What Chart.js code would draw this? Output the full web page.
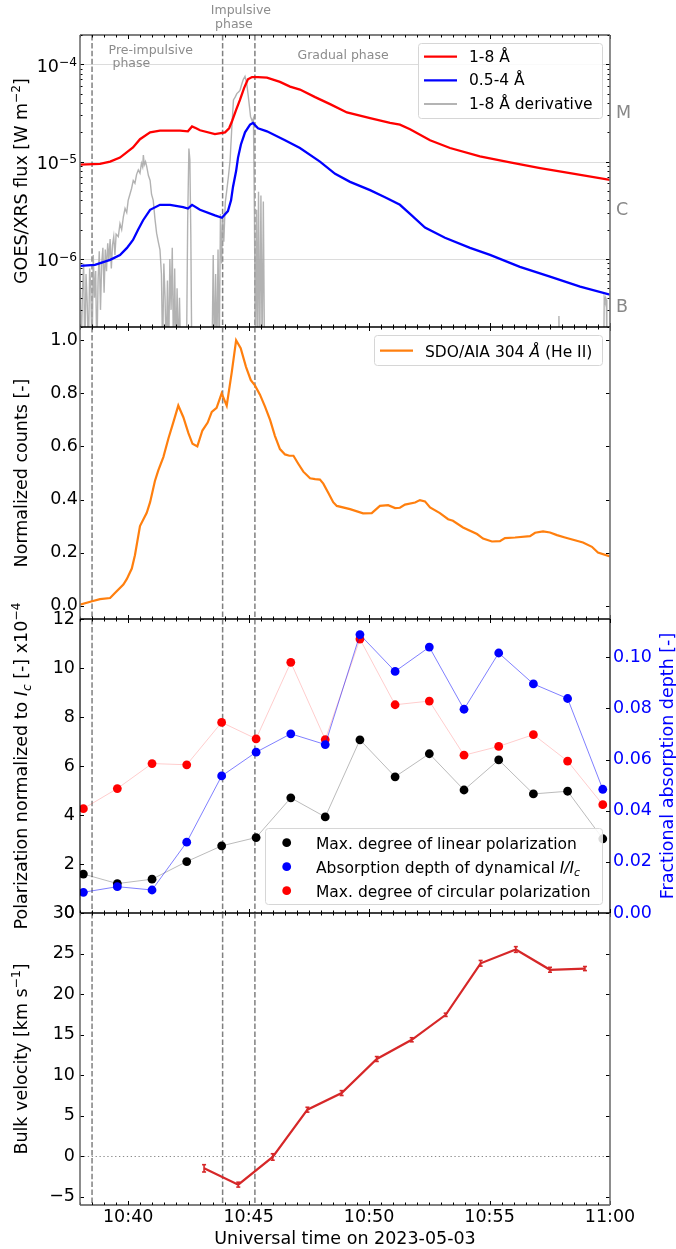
<!DOCTYPE html>
<html>
<head>
<meta charset="utf-8">
<script src="https://cdn.jsdelivr.net/npm/chart.js@4.4.1/dist/chart.umd.min.js"></script>
<style>
  html, body { margin: 0; padding: 0; background: #fff; }
  #page { position: relative; width: 676px; height: 1249px; overflow: hidden; background: #fff; }
  canvas { position: absolute; left: 0; }
</style>
</head>
<body>
<div id="page">
  <canvas id="c1" width="676" height="347" style="top:0px"></canvas>
  <canvas id="c2" width="676" height="340" style="top:300px"></canvas>
  <canvas id="c3" width="676" height="360" style="top:575px"></canvas>
  <canvas id="c4" width="676" height="364" style="top:885px"></canvas>
</div>
<script>
// time axis: minutes after 10:00 UT on 2023-05-03
const X_MIN = 38;
const X_MAX = 60;
const X_MAJOR = [40, 45, 50, 55, 60];
// phase boundaries (dashed lines)
const PHASE_LINES = [38.5, 43.92, 45.26];

// GOES/XRS 1-8 Å [W m^-2]
const xrsLongT = [38.00, 38.83, 39.25, 39.66, 39.95, 40.20, 40.49, 40.91, 41.32, 42.15, 42.48, 42.65, 42.82, 42.98,
  43.60, 44.02, 44.19, 44.31, 44.48, 44.64, 44.81, 44.97, 45.14, 45.39, 45.76, 46.30, 46.72, 47.13, 47.76, 48.38,
  49.08, 50.04, 50.87, 51.28, 51.70, 52.53, 53.36, 54.60, 55.85, 57.10, 58.34, 60.00];
const xrsLong = [9.3e-6, 9.5e-6, 1.0e-5, 1.1e-5, 1.25e-5, 1.4e-5, 1.7e-5, 2.0e-5, 2.08e-5, 2.08e-5, 2.05e-5, 2.3e-5, 2.2e-5, 2.1e-5,
  1.92e-5, 2.0e-5, 2.2e-5, 2.6e-5, 3.4e-5, 4.3e-5, 5.7e-5, 7.0e-5, 7.4e-5, 7.4e-5, 7.3e-5, 6.6e-5, 5.9e-5, 5.5e-5, 4.6e-5, 3.9e-5,
  3.2e-5, 2.8e-5, 2.5e-5, 2.4e-5, 2.15e-5, 1.66e-5, 1.38e-5, 1.13e-5, 9.8e-6, 8.6e-6, 7.6e-6, 6.5e-6];

// GOES/XRS 0.5-4 Å [W m^-2]
const xrsShortT = [38.00, 38.62, 39.25, 39.66, 39.95, 40.20, 40.41, 40.62, 40.91, 41.32, 41.74, 42.28, 42.48, 42.65, 42.98,
  43.60, 43.89, 44.14, 44.27, 44.35, 44.48, 44.56, 44.68, 44.85, 45.06, 45.18, 45.39, 45.76, 46.51, 47.13, 47.96, 48.59,
  49.21, 50.04, 50.66, 51.28, 51.70, 52.32, 53.15, 54.19, 55.02, 56.26, 57.51, 58.76, 60.00];
const xrsShort = [8.5e-7, 8.7e-7, 9.8e-7, 1.1e-6, 1.3e-6, 1.57e-6, 2.0e-6, 2.5e-6, 3.2e-6, 3.6e-6, 3.6e-6, 3.4e-6, 3.3e-6, 3.6e-6, 3.2e-6,
  2.8e-6, 2.65e-6, 3.1e-6, 4.0e-6, 5.5e-6, 8.0e-6, 1.1e-5, 1.5e-5, 2.0e-5, 2.4e-5, 2.5e-5, 2.2e-5, 2.05e-5, 1.66e-5, 1.38e-5, 1.0e-5, 7.5e-6,
  6.2e-6, 5.1e-6, 4.3e-6, 3.6e-6, 2.9e-6, 2.1e-6, 1.65e-6, 1.3e-6, 1.1e-6, 8.3e-7, 6.6e-7, 5.2e-7, 4.3e-7];

// 1-8 Å derivative (null = gap, 1e-7 = below the axis)
const derivT = [38.00, 38.05, 38.10, 38.15, 38.20, 38.25, 38.30, 38.35, 38.40, 38.45, 38.50, 38.55, 38.60, 38.65, 38.70,
  38.75, 38.80, 38.85, 38.90, 38.95, 39.00, 39.05, 39.10, 39.15, 39.20, 39.25, 39.30, 39.35, 39.40, 39.45, 39.50,
  39.59, 39.66, 39.73, 39.80, 39.87, 39.94, 40.00, 40.07, 40.14, 40.21, 40.28, 40.35, 40.42, 40.49, 40.55, 40.60,
  40.63, 40.67, 40.72, 40.77, 40.84, 40.91, 40.97, 41.04, 41.11, 41.18, 41.25, 41.32,
  41.38, 41.43, 41.48, 41.53, 41.58, 41.63, 41.68, 41.73, 41.78, 41.83, 41.88, 41.93, 41.98, 42.03, 42.08, 42.13, 42.18, 42.25,
  42.42, 42.47, 42.52, 42.56, 42.60, 42.64, 42.90,
  43.48, 43.53, 43.58, 43.63, 43.68, 43.73, 43.78, 43.83, 43.88, 43.92, 43.97, 44.03, 44.09, 44.16, 44.23, 44.30,
  44.37, 44.44, 44.51, 44.58, 44.64, 44.71, 44.78, 44.85, 44.92, 44.99, 45.08, 45.15, 45.20, 45.24, 45.28,
  45.33, 45.37, 45.41, 45.46, 45.51, 45.56, 45.61, 45.66, 46.00,
  57.86, 57.88, 57.90, 58.50,
  59.74, 59.76, 59.79, 59.82, 59.85, 59.87];
const deriv = [6e-7, 1e-7, 4.5e-7, 9e-7, 1e-7, 7e-7, 3.5e-7, 1e-7, 8e-7, 5e-7, 1e-7, 1.1e-6, 4e-7, 7.5e-7, 1e-7,
  6e-7, 1.2e-6, 3e-7, 9e-7, 1.3e-6, 4.5e-7, 1.25e-6, 7.5e-7, 1.45e-6, 9.5e-7, 1.6e-6, 8e-7, 1.4e-6, 1.7e-6, 1.1e-6, 1.8e-6,
  1.7e-6, 2.3e-6, 2.0e-6, 2.7e-6, 3.3e-6, 3.0e-6, 4.0e-6, 4.6e-6, 5.3e-6, 6.4e-6, 6.0e-6, 7.4e-6, 8.2e-6, 7.6e-6, 9.6e-6, 8.8e-6,
  1.17e-5, 9.3e-6, 1.0e-5, 8.9e-6, 7.2e-6, 6.4e-6, 4.6e-6, 4.0e-6, 2.6e-6, 1.84e-6, 1.5e-6, 1.24e-6,
  7e-7, 1e-7, 9e-7, 4e-7, 1e-7, 6e-7, 1e-7, 1.0e-6, 3e-7, 1.3e-6, 1e-7, 8e-7, 1e-7, 5e-7, 1e-7, 4e-7, 1e-7, null,
  1e-7, 2.5e-6, 1.36e-5, 1.05e-5, 1.8e-6, 1e-7, null,
  1e-7, 1.1e-6, 1e-7, 7e-7, 1e-7, 1.25e-6, 1e-7, 2.9e-6, 9e-7, 2.6e-6, 1.5e-6, 3.8e-6, 5.0e-6, 7.0e-6, 1.03e-5, 2.2e-5,
  4.3e-5, 4.6e-5, 5.0e-5, 5.2e-5, 5.4e-5, 6.2e-5, 7.0e-5, 7.5e-5, 6.4e-5, 4.6e-5, 2.9e-5, 2.6e-5, 2.8e-5, 3e-6, 1e-7,
  3.2e-6, 1e-7, 4.9e-6, 1e-7, 4.5e-6, 1e-7, 3.9e-6, 1e-7, null,
  1e-7, 2.6e-7, 1e-7, null,
  1e-7, 4e-7, 3.7e-7, 4e-7, 3.8e-7, 1e-7];

// SDO/AIA 304 Å normalized counts
const aiaT = [38.00, 38.50, 38.83, 39.25, 39.45, 39.80, 39.94, 40.15, 40.28, 40.49, 40.77, 40.91, 41.11, 41.25, 41.46,
  41.67, 41.87, 42.08, 42.29, 42.50, 42.67, 42.87, 43.08, 43.30, 43.47, 43.67, 43.88, 44.09, 44.30, 44.48, 44.67,
  44.89, 45.09, 45.26, 45.47, 45.68, 45.89, 46.09, 46.30, 46.51, 46.69, 46.86, 47.06, 47.27, 47.55, 47.76, 47.96,
  48.10, 48.31, 48.51, 48.66, 49.21, 49.75, 50.11, 50.45, 50.79, 51.08, 51.28, 51.49, 51.91, 52.11, 52.32, 52.53,
  52.94, 53.28, 53.48, 53.90, 54.48, 54.73, 55.10, 55.43, 55.64, 56.06, 56.68, 56.89, 57.22, 57.51, 57.80, 58.13,
  58.88, 59.25, 59.50, 60.00];
const aia = [0.004, 0.017, 0.025, 0.029, 0.048, 0.08, 0.10, 0.14, 0.19, 0.30, 0.35, 0.39, 0.47, 0.51, 0.56,
  0.63, 0.69, 0.754, 0.71, 0.65, 0.61, 0.60, 0.66, 0.69, 0.73, 0.745, 0.80, 0.754, 0.88, 1.00, 0.97,
  0.90, 0.85, 0.83, 0.795, 0.75, 0.70, 0.64, 0.59, 0.57, 0.565, 0.565, 0.535, 0.505, 0.48, 0.477, 0.475,
  0.46, 0.425, 0.39, 0.376, 0.364, 0.348, 0.349, 0.376, 0.379, 0.368, 0.369, 0.381, 0.389, 0.398, 0.393, 0.370,
  0.349, 0.326, 0.320, 0.295, 0.270, 0.253, 0.242, 0.243, 0.255, 0.257, 0.262, 0.275, 0.280, 0.276, 0.266, 0.257,
  0.238, 0.222, 0.200, 0.186];

// spectropolarimetric scans
const polT = [38.14, 39.55, 40.99, 42.43, 43.88, 45.31, 46.75, 48.18, 49.62, 51.08, 52.50, 53.94, 55.38, 56.82, 58.24, 59.70];
const linPol = [1.59, 1.20, 1.38, 2.10, 2.74, 3.08, 4.70, 3.92, 7.07, 5.56, 6.50, 5.02, 6.25, 4.86, 4.97, 3.03];
const circPol = [4.26, 5.08, 6.10, 6.05, 7.78, 7.11, 10.23, 7.08, 11.18, 8.50, 8.65, 6.44, 6.80, 7.28, 6.20, 4.42];
const absDepth = [0.0081, 0.0103, 0.0090, 0.0277, 0.0536, 0.0629, 0.0701, 0.0659, 0.1089, 0.0945, 0.1040, 0.0797, 0.1017, 0.0896, 0.0839, 0.0484];

// bulk velocity [km/s]
const velT = [43.15, 44.57, 46.00, 47.44, 48.86, 50.32, 51.77, 53.18, 54.63, 56.09, 57.51, 58.96];
const vel = [-1.48, -3.49, -0.08, 5.75, 7.8, 12.0, 14.37, 17.45, 23.8, 25.5, 23.0, 23.15];
const velErr = [0.45, 0.3, 0.4, 0.3, 0.3, 0.3, 0.25, 0.2, 0.35, 0.35, 0.3, 0.25];

// tick positions
const GOES_DECADES = [-4, -5, -6];
const AIA_TICKS = [0, 0.2, 0.4, 0.6, 0.8, 1.0];
const POL_TICKS = [0, 2, 4, 6, 8, 10, 12];
const ABS_TICKS = [0, 0.02, 0.04, 0.06, 0.08, 0.10];
const VEL_TICKS = [-5, 0, 5, 10, 15, 20, 25, 30];

const FAMILY = "'DejaVu Sans', sans-serif";
const TICK_PX = 17.5;
const LABEL_PX = 17.5;
const LEGEND_PX = 15.5;

Chart.defaults.font.family = FAMILY;
Chart.defaults.color = '#000';

const pts = (xs, ys) => xs.map((x, i) => ({ x, y: ys[i] }));

function fmtTime(v) {
  const h = 10 + Math.floor(v / 60);
  const m = v % 60;
  return h + ':' + String(m).padStart(2, '0');
}

function xAxis(showLabels) {
  return {
    type: 'linear', position: 'bottom', min: X_MIN, max: X_MAX,
    grid: { display: false, drawTicks: false }, border: { display: false },
    ticks: { display: showLabels, font: { size: TICK_PX }, color: '#000', padding: 2, maxRotation: 0, autoSkip: false, callback: fmtTime },
    afterBuildTicks: (s) => { s.ticks = X_MAJOR.map((v) => ({ value: v })); },
    afterFit: (s) => { s.height = showLabels ? 44 : 0; },
  };
}

function yAxis(pos, min, max, tickVals, fmt, extra = {}) {
  return {
    type: extra.type || 'linear', position: pos, min, max,
    grid: { display: false, drawTicks: false }, border: { display: false },
    ticks: { display: !!fmt, font: { size: TICK_PX }, color: extra.color || '#000', padding: extra.pad ?? 4, autoSkip: false, callback: fmt || (() => '') },
    afterBuildTicks: (s) => { s.ticks = tickVals.map((v) => ({ value: v })); },
    afterFit: (s) => { s.width = pos === 'left' ? 80 : 66; },
  };
}

function baseOptions(padding, scales) {
  return {
    responsive: false, animation: false, devicePixelRatio: 1, events: [],
    layout: { padding },
    plugins: { legend: { display: false }, tooltip: { enabled: false } },
    scales,
  };
}

// ---------- drawing helpers ----------
function strokeLine(ctx, x1, y1, x2, y2) {
  ctx.beginPath(); ctx.moveTo(x1, y1); ctx.lineTo(x2, y2); ctx.stroke();
}

function drawRich(ctx, segs, x, y, size, align, color) {
  const parts = segs.map(([t, st]) => {
    const small = st === 'sup' || st === 'sub';
    const italic = st === 'i' || st === 'sub';
    const fs = small ? size * 0.7 : size;
    const font = (italic ? 'italic ' : '') + fs + 'px ' + FAMILY;
    ctx.font = font;
    const dy = st === 'sup' ? -size * 0.4 : st === 'sub' ? size * 0.22 : 0;
    return { t, font, w: ctx.measureText(t).width, dy };
  });
  const total = parts.reduce((s, p) => s + p.w, 0);
  let cx = align === 'center' ? x - total / 2 : align === 'right' ? x - total : x;
  ctx.fillStyle = color; ctx.textAlign = 'left'; ctx.textBaseline = 'alphabetic';
  parts.forEach((p) => { ctx.font = p.font; ctx.fillText(p.t, cx, y + p.dy); cx += p.w; });
}

function vTitle(ctx, segs, x, yc, color) {
  ctx.save();
  ctx.translate(x, yc);
  ctx.rotate(-Math.PI / 2);
  drawRich(ctx, segs, 0, LABEL_PX * 0.36, LABEL_PX, 'center', color || '#000');
  ctx.restore();
}

function legendBox(ctx, x1, y1, x2, y2) {
  ctx.save();
  ctx.beginPath();
  if (ctx.roundRect) ctx.roundRect(x1 + 0.5, y1 + 0.5, x2 - x1, y2 - y1, 3);
  else ctx.rect(x1 + 0.5, y1 + 0.5, x2 - x1, y2 - y1);
  ctx.fillStyle = 'rgba(255,255,255,0.85)';
  ctx.fill();
  ctx.strokeStyle = '#d6d6d6'; ctx.lineWidth = 1; ctx.stroke();
  ctx.restore();
}

function drawPhaseLines(chart) {
  const { ctx, chartArea: a, scales: { x } } = chart;
  ctx.save();
  ctx.beginPath(); ctx.rect(a.left, a.top, a.right - a.left, a.bottom - a.top); ctx.clip();
  ctx.strokeStyle = '#808080'; ctx.lineWidth = 1.5; ctx.setLineDash([5.5, 2.4]);
  PHASE_LINES.forEach((t) => {
    const px = x.getPixelForValue(t);
    strokeLine(ctx, px, a.top, px, a.bottom);
  });
  ctx.restore();
}

// inward ticks + spines
function drawFrame(chart, yTicks, sideColor, sideWidth) {
  const { ctx, chartArea: a } = chart;
  const xs = chart.scales.x;
  ctx.save();
  ctx.strokeStyle = '#000'; ctx.lineWidth = 1;
  for (let m = X_MIN; m <= X_MAX; m += 0.5) {
    const px = Math.round(xs.getPixelForValue(m)) + 0.5;
    const len = m % 5 === 0 ? 4 : 2.5;
    strokeLine(ctx, px, a.top, px, a.top + len);
    strokeLine(ctx, px, a.bottom, px, a.bottom - len);
  }
  yTicks.forEach((t) => {
    const s = chart.scales[t.axis];
    t.values.forEach((v) => {
      const py = Math.round(s.getPixelForValue(v)) + 0.5;
      if (py < a.top - 0.5 || py > a.bottom + 1) return;
      const len = t.minor ? 2.5 : 4;
      if (t.sides.includes('l')) strokeLine(ctx, a.left, py, a.left + len, py);
      if (t.sides.includes('r')) strokeLine(ctx, a.right, py, a.right - len, py);
    });
  });
  ctx.strokeStyle = '#000'; ctx.lineWidth = 1.2;
  strokeLine(ctx, a.left, a.top, a.right, a.top);
  strokeLine(ctx, a.left, a.bottom, a.right, a.bottom);
  ctx.strokeStyle = sideColor; ctx.lineWidth = sideWidth;
  strokeLine(ctx, a.left, a.top, a.left, a.bottom);
  strokeLine(ctx, a.right, a.top, a.right, a.bottom);
  ctx.restore();
}

// ---------- panel 1: GOES/XRS ----------
const logMinor = [];
for (let e = -7; e <= -4; e++) {
  for (let k = 2; k <= 9; k++) logMinor.push(k * Math.pow(10, e));
}

const panel1Decor = {
  id: 'panel1Decor',
  beforeDatasetsDraw(chart) {
    const { ctx, chartArea: a, scales: { y } } = chart;
    ctx.save();
    ctx.strokeStyle = '#dcdcdc'; ctx.lineWidth = 1;
    GOES_DECADES.forEach((e) => {
      const py = Math.round(y.getPixelForValue(Math.pow(10, e))) + 0.5;
      strokeLine(ctx, a.left, py, a.right, py);
    });
    ctx.restore();
    drawPhaseLines(chart);
  },
  afterDatasetsDraw(chart) {
    const { ctx, chartArea: a, scales: { x, y } } = chart;
    drawFrame(chart, [
      { axis: 'y', values: GOES_DECADES.map((e) => Math.pow(10, e)), sides: 'lr' },
      { axis: 'y', values: logMinor, sides: 'lr', minor: true },
    ], '#707070', 1.6);
    ctx.save();
    // decade labels
    GOES_DECADES.forEach((e) => {
      const py = y.getPixelForValue(Math.pow(10, e));
      const sup = '\u2212' + Math.abs(e);
      ctx.font = (TICK_PX * 0.7) + 'px ' + FAMILY;
      const ws = ctx.measureText(sup).width;
      ctx.font = TICK_PX + 'px ' + FAMILY;
      const wb = ctx.measureText('10').width;
      const right = a.left - 3;
      ctx.fillStyle = '#000'; ctx.textAlign = 'left'; ctx.textBaseline = 'alphabetic';
      ctx.fillText('10', right - ws - wb, py + 7.2);
      ctx.font = (TICK_PX * 0.7) + 'px ' + FAMILY;
      ctx.fillText(sup, right - ws, py + 1.8);
    });
    // flare classes
    ctx.font = TICK_PX + 'px ' + FAMILY;
    ctx.fillStyle = '#888'; ctx.textAlign = 'left'; ctx.textBaseline = 'middle';
    [['M', -4.5], ['C', -5.5], ['B', -6.5]].forEach(([c, e]) => {
      ctx.fillText(c, a.right + 6, y.getPixelForValue(Math.pow(10, e)));
    });
    // phase names
    ctx.font = '12.5px ' + FAMILY;
    ctx.fillStyle = '#8c8c8c'; ctx.textAlign = 'center'; ctx.textBaseline = 'middle';
    ctx.fillText('Pre-impulsive', x.getPixelForValue(40.94), a.top + 15.5);
    ctx.fillText('phase', x.getPixelForValue(40.13), a.top + 29);
    ctx.fillText('Impulsive', x.getPixelForValue(44.68), a.top - 24);
    ctx.fillText('phase', x.getPixelForValue(44.39), a.top - 10);
    ctx.fillText('Gradual phase', x.getPixelForValue(48.92), a.top + 21);
    ctx.restore();
    // legend
    ctx.save();
    legendBox(ctx, a.right - 192, a.top + 8, a.right - 8, a.top + 83);
    const rows = [
      ['1-8 \u00c5', '#ff0000', 2.3],
      ['0.5-4 \u00c5', '#0000ff', 2.3],
      ['1-8 \u00c5 derivative', '#b4b4b4', 2.0],
    ];
    rows.forEach(([label, col, w], i) => {
      const ry = a.top + 21.7 + i * 23.7;
      ctx.strokeStyle = col; ctx.lineWidth = w;
      strokeLine(ctx, a.right - 186, ry, a.right - 153, ry);
      ctx.font = LEGEND_PX + 'px ' + FAMILY;
      ctx.fillStyle = '#000'; ctx.textAlign = 'left'; ctx.textBaseline = 'middle';
      ctx.fillText(label, a.right - 141, ry + 1);
    });
    ctx.restore();
    vTitle(ctx, [['GOES/XRS flux [W m', ''], ['\u22122', 'sup'], [']', '']], 21, (a.top + a.bottom) / 2);
  },
};

new Chart(document.getElementById('c1'), {
  type: 'line',
  data: {
    datasets: [
      { data: pts(xrsLongT, xrsLong), borderColor: '#ff0000', borderWidth: 2.3, pointRadius: 0, tension: 0 },
      { data: pts(xrsShortT, xrsShort), borderColor: '#0000ff', borderWidth: 2.3, pointRadius: 0, tension: 0 },
      { data: pts(derivT, deriv), borderColor: 'rgba(165,165,165,0.85)', borderWidth: 1.4, pointRadius: 0, tension: 0, spanGaps: false },
    ],
  },
  options: baseOptions({ top: 35, bottom: 20, left: 0, right: 66 }, {
    x: xAxis(false),
    y: yAxis('left', 2e-7, 2e-4, GOES_DECADES.map((e) => Math.pow(10, e)), null, { type: 'logarithmic' }),
  }),
  plugins: [panel1Decor],
});

// ---------- panel 2: SDO/AIA 304 ----------
const panel2Decor = {
  id: 'panel2Decor',
  beforeDatasetsDraw(chart) { drawPhaseLines(chart); },
  afterDatasetsDraw(chart) {
    const { ctx, chartArea: a } = chart;
    drawFrame(chart, [{ axis: 'y', values: AIA_TICKS, sides: 'lr' }], '#707070', 1.6);
    ctx.save();
    legendBox(ctx, a.right - 236, a.top + 8, a.right - 8, a.top + 38);
    const ry = a.top + 23.7;
    ctx.strokeStyle = '#ff7f0e'; ctx.lineWidth = 2.2;
    strokeLine(ctx, a.right - 230, ry, a.right - 197, ry);
    drawRich(ctx, [['SDO/AIA 304 ', ''], ['\u00c5', 'i'], [' (He II)', '']], a.right - 185, ry + 5.8, LEGEND_PX, 'left', '#000');
    ctx.restore();
    vTitle(ctx, [['Normalized counts [-]', '']], 21, (a.top + a.bottom) / 2);
  },
};

new Chart(document.getElementById('c2'), {
  type: 'line',
  data: {
    datasets: [
      { data: pts(aiaT, aia), borderColor: '#ff7f0e', borderWidth: 2.2, pointRadius: 0, tension: 0 },
    ],
  },
  options: baseOptions({ top: 27, bottom: 21, left: 0, right: 66 }, {
    x: xAxis(false),
    y: yAxis('left', -0.05, 1.05, AIA_TICKS, (v) => v.toFixed(1), { pad: 2 }),
  }),
  plugins: [panel2Decor],
});

// ---------- panel 3: polarization ----------
const panel3Decor = {
  id: 'panel3Decor',
  beforeDatasetsDraw(chart) { drawPhaseLines(chart); },
  afterDatasetsDraw(chart) {
    const { ctx, chartArea: a } = chart;
    drawFrame(chart, [
      { axis: 'y', values: POL_TICKS, sides: 'l' },
      { axis: 'y1', values: ABS_TICKS, sides: 'r' },
    ], '#000', 1.2);
    ctx.save();
    legendBox(ctx, a.right - 345, a.bottom - 85, a.right - 8, a.bottom - 9);
    const rows = [
      ['#000000', [['Max. degree of linear polarization', '']]],
      ['#0000ff', [['Absorption depth of dynamical ', ''], ['I/I', 'i'], ['c', 'sub']]],
      ['#ff0000', [['Max. degree of circular polarization', '']]],
    ];
    rows.forEach(([col, segs], i) => {
      const ry = a.bottom - 70.3 + i * 24;
      ctx.fillStyle = col;
      ctx.beginPath(); ctx.arc(a.right - 323.3, ry, 4.4, 0, Math.PI * 2); ctx.fill();
      drawRich(ctx, segs, a.right - 294, ry + 5.8, LEGEND_PX, 'left', '#000');
    });
    ctx.restore();
    vTitle(ctx, [['Polarization normalized to ', ''], ['I', 'i'], ['c', 'sub'], [' [-] x10', ''], ['\u22124', 'sup']], 21, (a.top + a.bottom) / 2);
    vTitle(ctx, [['Fractional absorption depth [-]', '']], 666.5, (a.top + a.bottom) / 2, '#0000ff');
  },
};

new Chart(document.getElementById('c3'), {
  type: 'line',
  data: {
    datasets: [
      { data: pts(polT, absDepth), yAxisID: 'y1', borderColor: 'rgba(0,0,255,0.5)', borderWidth: 1,
        pointRadius: 4.4, pointBackgroundColor: '#0000ff', pointBorderWidth: 0, tension: 0 },
      { data: pts(polT, circPol), yAxisID: 'y', borderColor: 'rgba(255,0,0,0.2)', borderWidth: 1,
        pointRadius: 4.4, pointBackgroundColor: '#ff0000', pointBorderWidth: 0, tension: 0 },
      { data: pts(polT, linPol), yAxisID: 'y', borderColor: 'rgba(0,0,0,0.27)', borderWidth: 1,
        pointRadius: 4.4, pointBackgroundColor: '#000000', pointBorderWidth: 0, tension: 0 },
    ],
  },
  options: baseOptions({ top: 44, bottom: 22, left: 0, right: 0 }, {
    x: xAxis(false),
    y: yAxis('left', 0, 12, POL_TICKS, (v) => String(v), { pad: 5 }),
    y1: yAxis('right', 0, 0.115, ABS_TICKS, (v) => v.toFixed(2), { color: '#0000ff', pad: 3 }),
  }),
  plugins: [panel3Decor],
});

// ---------- panel 4: bulk velocity ----------
const panel4Decor = {
  id: 'panel4Decor',
  beforeDatasetsDraw(chart) {
    const { ctx, chartArea: a, scales: { y } } = chart;
    drawPhaseLines(chart);
    ctx.save();
    ctx.strokeStyle = '#8a8a8a'; ctx.lineWidth = 1.2; ctx.setLineDash([1.3, 2.6]);
    const py = Math.round(y.getPixelForValue(0)) + 0.5;
    strokeLine(ctx, a.left, py, a.right, py);
    ctx.restore();
  },
  afterDatasetsDraw(chart) {
    const { ctx, chartArea: a, scales: { x, y } } = chart;
    ctx.save();
    ctx.strokeStyle = '#d62728'; ctx.lineWidth = 1.6;
    velT.forEach((t, i) => {
      const px = x.getPixelForValue(t);
      const y1 = y.getPixelForValue(vel[i] - velErr[i]);
      const y2 = y.getPixelForValue(vel[i] + velErr[i]);
      strokeLine(ctx, px, y1, px, y2);
      strokeLine(ctx, px - 2, y1, px + 2, y1);
      strokeLine(ctx, px - 2, y2, px + 2, y2);
    });
    ctx.restore();
    drawFrame(chart, [{ axis: 'y', values: VEL_TICKS, sides: 'lr' }], '#707070', 1.6);
    vTitle(ctx, [['Bulk velocity [km s', ''], ['\u22121', 'sup'], [']', '']], 21, (a.top + a.bottom) / 2);
    ctx.save();
    ctx.font = LABEL_PX + 'px ' + FAMILY;
    ctx.fillStyle = '#000'; ctx.textAlign = 'center'; ctx.textBaseline = 'alphabetic';
    ctx.fillText('Universal time on 2023-05-03', (a.left + a.right) / 2, a.bottom + 39);
    ctx.restore();
  },
};

new Chart(document.getElementById('c4'), {
  type: 'line',
  data: {
    datasets: [
      { data: pts(velT, vel), borderColor: '#d62728', borderWidth: 2.2, pointRadius: 0, tension: 0 },
    ],
  },
  options: baseOptions({ top: 28, bottom: 0, left: 0, right: 66 }, {
    x: xAxis(true),
    y: yAxis('left', -6, 30, VEL_TICKS, (v) => (v < 0 ? '\u2212' + Math.abs(v) : String(v)), { pad: 5 }),
  }),
  plugins: [panel4Decor],
});
</script>
</body>
</html>
